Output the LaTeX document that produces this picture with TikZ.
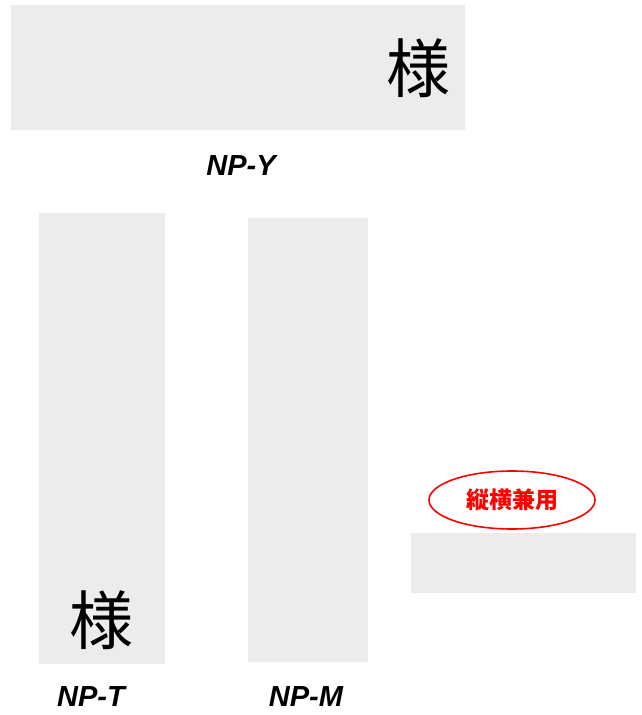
\documentclass[tikz,border=0pt]{standalone}
\usepackage{fontspec}
\setmainfont{Liberation Sans}
\newfontfamily\cjk{Noto Sans CJK JP}
\usepackage{tikz}
\usetikzlibrary{shapes}
\usetikzlibrary{calc}

\begin{document}
\begin{tikzpicture}[x=1pt,y=-1pt,
        plate/.style={fill=gray!15,draw=none},
        model/.style={font=\fontsize{29}{29}\selectfont\bfseries\itshape,inner sep=0},
        sama/.style={font=\cjk\fontsize{64}{64}\selectfont,inner sep=0},
        badge/.style={ellipse,draw=red,line width=1.6pt,minimum width=166,minimum height=58,inner sep=0,
          text=red,font=\cjk\bfseries\fontsize{23}{23}\selectfont}]
        \useasboundingbox (0,0) rectangle (642,715);
        % plates
        \fill[plate] (11,5) rectangle (465,130);
        \fill[plate] (39,213) rectangle (165,664);
        \fill[plate] (248,218) rectangle (368,662);
        \fill[plate] (411,533) rectangle (636,593);
        % names
        \node[sama]  (ysama) at (418,68) {様};
        \node[sama]  (tsama) at (101,620) {様};
        \node[model] (npy) at (241,166) {NP-Y};
        \node[model] (npt) at (91,697) {NP-T};
        \node[model] (npm) at (306,697) {NP-M};
        \node[badge] (both) at (512,500) {縦横兼用};
      \end{tikzpicture}
\end{document}
